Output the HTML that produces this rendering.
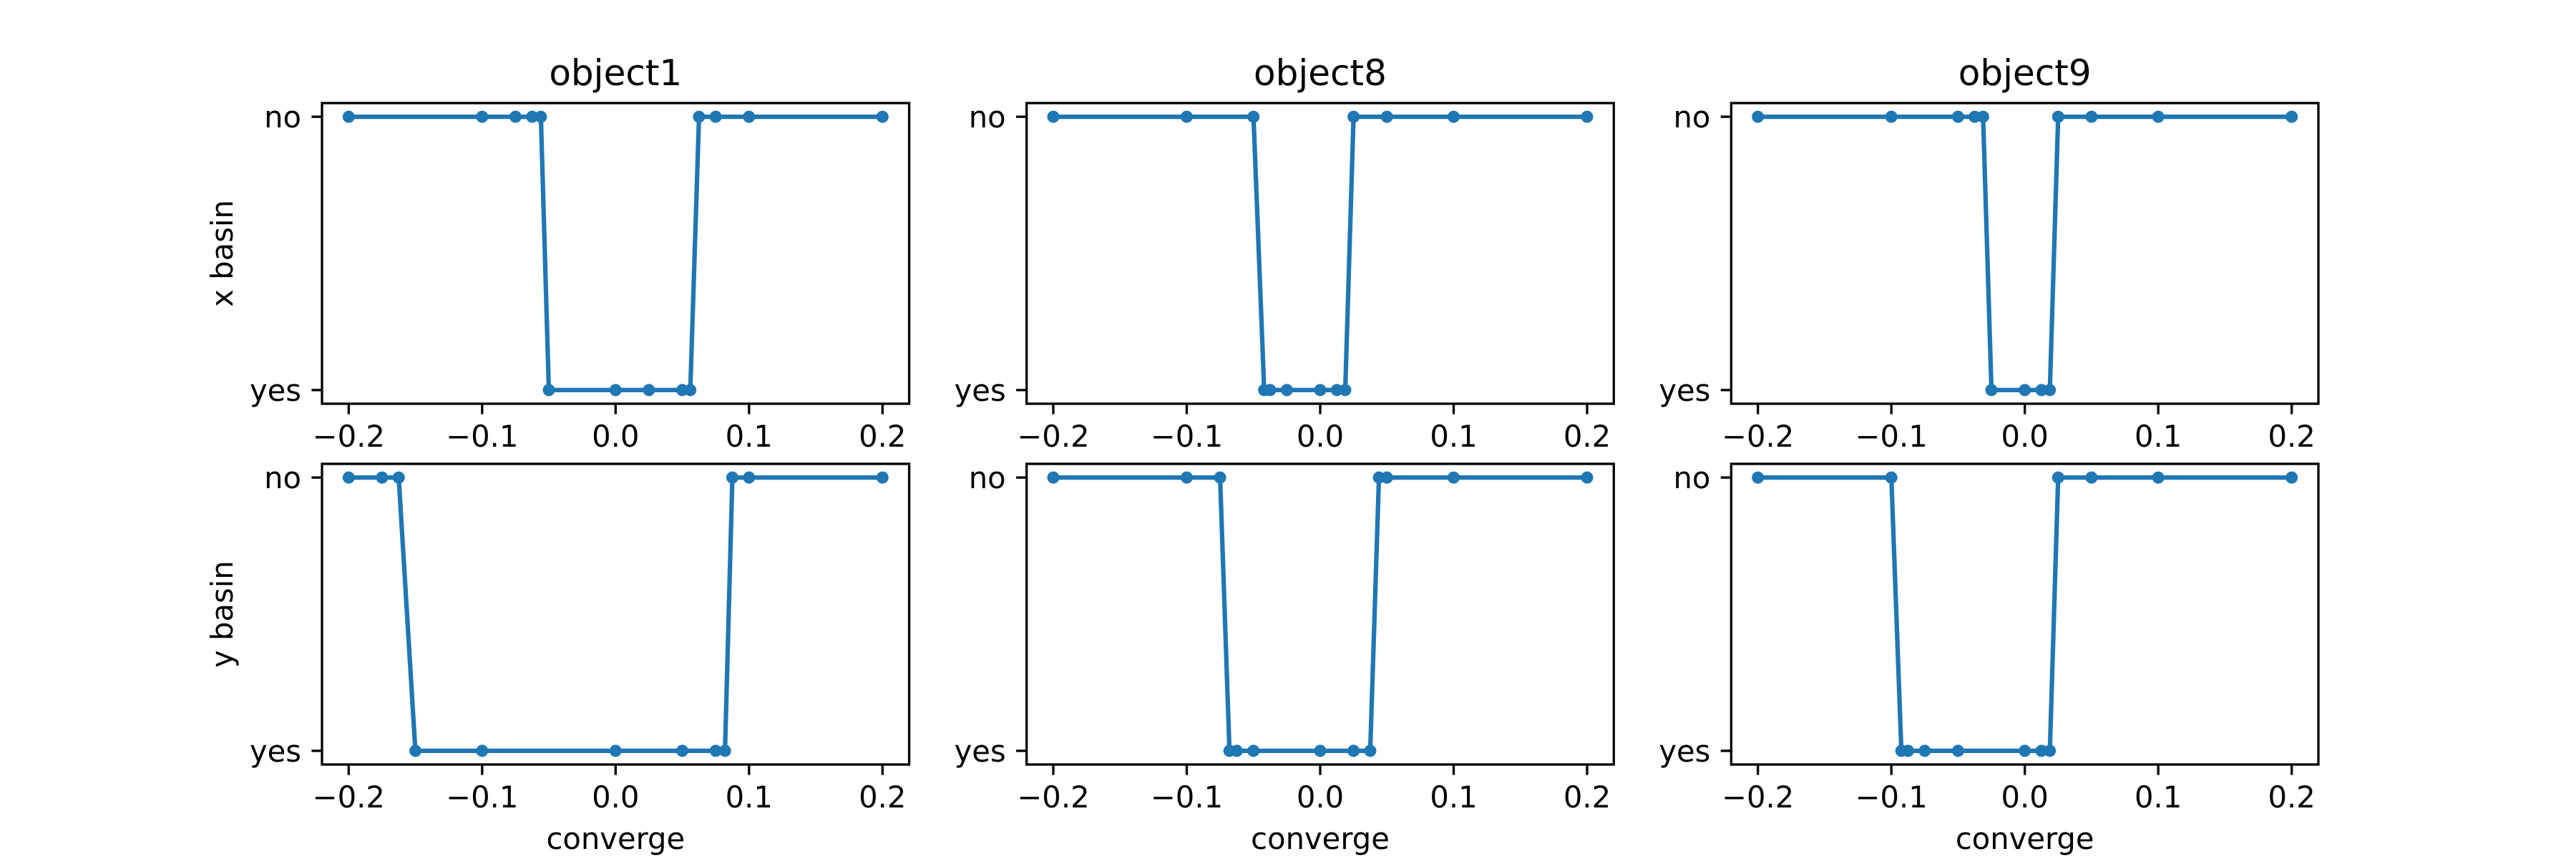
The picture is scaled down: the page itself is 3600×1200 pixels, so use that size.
<!DOCTYPE html>
<html><head><meta charset="utf-8"><style>
html,body{margin:0;padding:0;background:#fff}
svg{display:block;font-family:"DejaVu Sans","Liberation Sans",sans-serif}
</style></head><body>
<svg id="fig" width="3600" height="1200" xmlns="http://www.w3.org/2000/svg"></svg>
<script>
const titles = ["object1","object8","object9"];
const rowLabels = ["x basin","y basin"];
const xTicks = [-0.2,-0.1,0.0,0.1,0.2];
const xTickLabels = ["\u22120.2","\u22120.1","0.0","0.1","0.2"];
const yCats = ["yes","no"];
// values: 1 = no, 0 = yes
const o1xX = [-0.2,-0.1,-0.075,-0.0625,-0.056,-0.05,0,0.025,0.05,0.056,0.0625,0.075,0.1,0.2];
const o1xY = [1,1,1,1,1,0,0,0,0,0,1,1,1,1];
const o8xX = [-0.2,-0.1,-0.05,-0.042,-0.0375,-0.025,0,0.0125,0.01875,0.025,0.05,0.1,0.2];
const o8xY = [1,1,1,0,0,0,0,0,0,1,1,1,1];
const o9xX = [-0.2,-0.1,-0.05,-0.0375,-0.03125,-0.025,0,0.0125,0.01875,0.025,0.05,0.1,0.2];
const o9xY = [1,1,1,1,1,0,0,0,0,1,1,1,1];
const o1yX = [-0.2,-0.175,-0.1625,-0.15,-0.1,0,0.05,0.075,0.082,0.0875,0.1,0.2];
const o1yY = [1,1,1,0,0,0,0,0,0,1,1,1];
const o8yX = [-0.2,-0.1,-0.075,-0.068,-0.0625,-0.05,0,0.025,0.0375,0.044,0.05,0.1,0.2];
const o8yY = [1,1,1,0,0,0,0,0,0,1,1,1,1];
const o9yX = [-0.2,-0.1,-0.0925,-0.0875,-0.075,-0.05,0,0.0125,0.01875,0.025,0.05,0.1,0.2];
const o9yY = [1,1,0,0,0,0,0,0,0,1,1,1,1];
const series = [[[o1xX,o1xY],[o8xX,o8xY],[o9xX,o9xY]],[[o1yX,o1yY],[o8yX,o8yY],[o9yX,o9yY]]];

const NS="http://www.w3.org/2000/svg";
const svg=document.getElementById('fig');
function mk(tag,attrs,parent){const e=document.createElementNS(NS,tag);for(const k in attrs)e.setAttribute(k,attrs[k]);(parent||svg).appendChild(e);return e;}
const colX=[450,1434.7,2419.4], W=820.6, rowY=[144,648], H=420;
const C="#1f77b4";
for(let r=0;r<2;r++)for(let c=0;c<3;c++){
  const x0=colX[c], y0=rowY[r];
  const g=mk('g',{});
  
  
  const sx=v=>x0+(v+0.22)/0.44*W;
  const sy=v=>y0+H-(v+0.05)/1.1*H;
  const [xs,ys]=series[r][c];
  const pts=xs.map((v,i)=>sx(v).toFixed(1)+','+sy(ys[i]).toFixed(1)).join(' ');
  const pl=mk('polyline',{points:pts,fill:'none',stroke:C,'stroke-width':6.25,'stroke-linejoin':'round','stroke-linecap':'square'},g);
  
  
  xs.forEach((v,i)=>{const m=mk('circle',{cx:sx(v),cy:sy(ys[i]),r:8.5,fill:C},g);
    
    });
  const fr=mk('rect',{x:x0,y:y0,width:W,height:H,fill:'none',stroke:'#000','stroke-width':3.3},g);
  
  
  xTicks.forEach((t,i)=>{const X=sx(t);
    mk('line',{x1:X,x2:X,y1:y0+H,y2:y0+H+14.6,stroke:'#000','stroke-width':3.3},g);
    const tx=mk('text',{x:X,y:624+(r?504:0),'text-anchor':'middle','font-size':41.7,fill:'#000'},g);
    tx.textContent=xTickLabels[i];
    
    });
  yCats.forEach((cat,i)=>{const Y=sy(i);
    mk('line',{x1:x0,x2:x0-14.6,y1:Y,y2:Y,stroke:'#000','stroke-width':3.3},g);
    const tx=mk('text',{x:x0-29,y:Y+15,'text-anchor':'end','font-size':41.7,fill:'#000'},g);
    tx.textContent=cat;
    
    });
  if(r===0){const t=mk('text',{x:x0+W/2,y:119,'text-anchor':'middle','font-size':50,fill:'#000'},g);
    t.textContent=titles[c];
    
    }
  if(r===1){const t=mk('text',{x:x0+W/2,y:1186,'text-anchor':'middle','font-size':41.7,fill:'#000'},g);
    t.textContent='converge';
    
    }
  if(c===0){const cy=y0+H/2;const t=mk('text',{x:0,y:0,'text-anchor':'middle','font-size':41.7,fill:'#000',transform:'translate(325,'+cy+') rotate(-90)'},g);
    t.textContent=rowLabels[r];
    
    }
}
</script>
</body></html>
